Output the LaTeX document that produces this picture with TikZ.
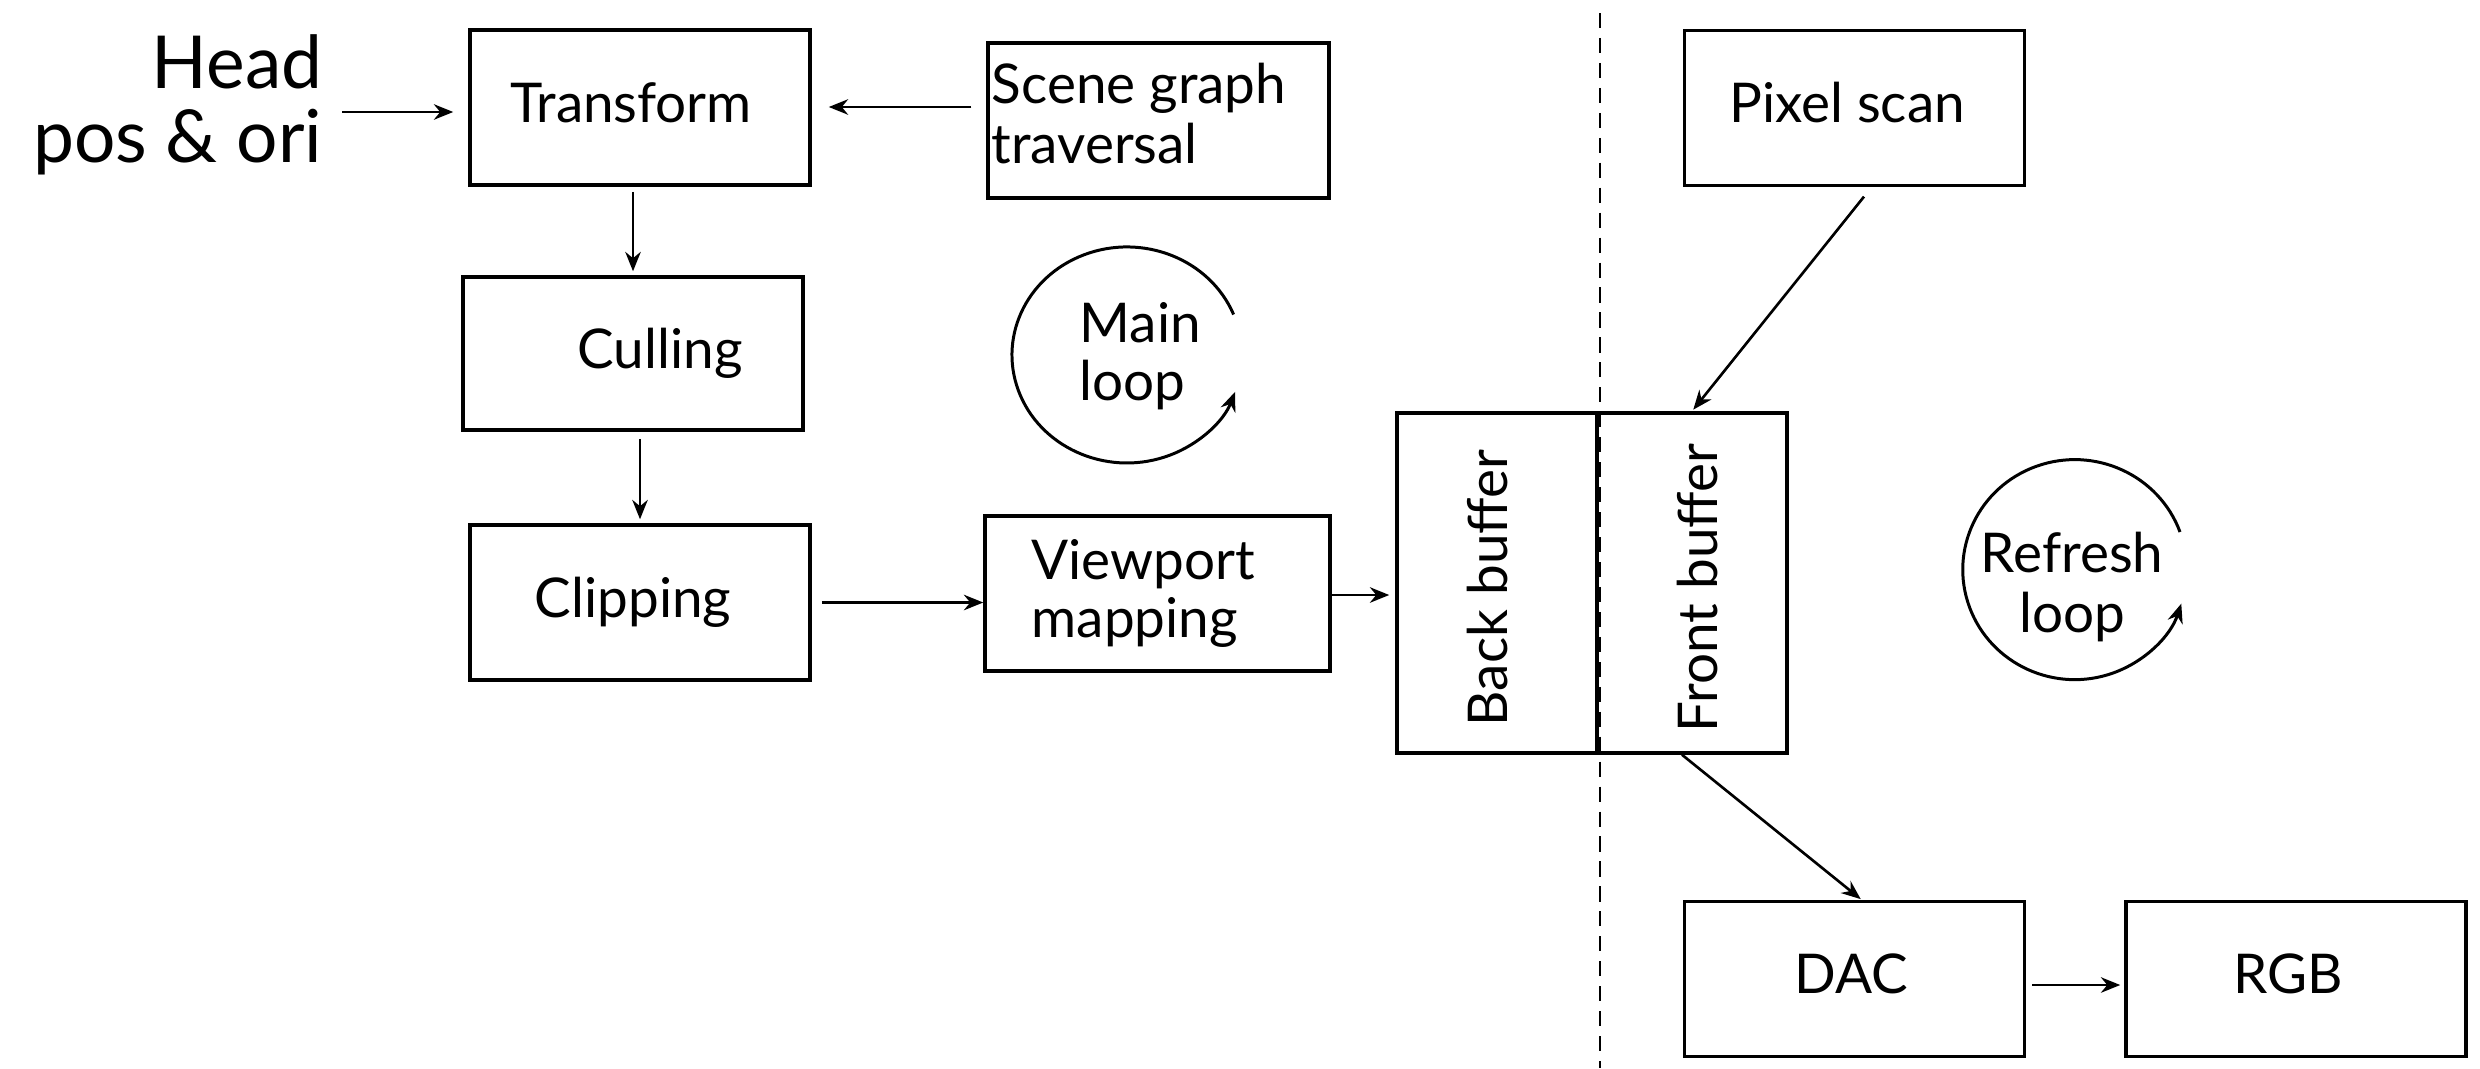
\documentclass[tikz,border=0pt]{standalone}
\usepackage{fontspec}
\setmainfont{Lato}
\usetikzlibrary{arrows.meta,calc}
\begin{document}
\begin{tikzpicture}[x=1cm, y=-1cm,
  box/.style={draw, line width=1pt, inner sep=0pt, minimum width=3.40cm, minimum height=1.55cm},
  txt/.style={inner sep=0pt, anchor=base, font=\fontsize{15.6}{18}\selectfont},
  bigtxt/.style={inner sep=0pt, anchor=base east, font=\fontsize{20.8}{24}\selectfont},
  arr/.style={-{Stealth[length=5.5pt, width=4.4pt]}, line width=0.75pt},
  loopline/.style={-{Stealth[length=5.5pt, width=4.4pt]}, line width=0.85pt},
  divider/.style={line width=0.7pt, dash pattern=on 4.3pt off 2.8pt}
]
\useasboundingbox (0,0) rectangle (24.80,10.68);

% pipeline boxes
\node[box] (tr)  at (6.40, 1.075) {};
\node[box, minimum width=3.41cm] (sg)  at (11.585, 1.205) {};
\node[box, minimum height=1.53cm] (cul) at (6.33, 3.535) {};
\node[box] (cl)  at (6.40, 6.025) {};
\node[box, minimum width=3.45cm] (vp)  at (11.575, 5.935) {};
\node[box, minimum width=2.00cm, minimum height=3.40cm] (bb) at (14.97, 5.83) {};
\node[box, minimum width=1.90cm, minimum height=3.40cm] (fb) at (16.92, 5.83) {};
\node[box] (px)  at (18.545, 1.08) {};
\node[box, minimum height=1.55cm] (dac) at (18.545, 9.79) {};
\node[box, minimum height=1.55cm] (rgb) at (22.96, 9.79) {};

% box labels
\node[txt] (trt)  at (6.31, 1.23) {Transform};
\node[txt, anchor=base west] (sgt1) at (9.91, 1.04) {Scene graph};
\node[txt, anchor=base west] (sgt2) at (9.91, 1.63) {traversal};
\node[txt] (cult) at (6.60, 3.68) {Culling};
\node[txt] (clt)  at (6.33, 6.17) {Clipping};
\node[txt, anchor=base west] (vpt1) at (10.31, 5.79) {Viewport};
\node[txt, anchor=base west] (vpt2) at (10.31, 6.37) {mapping};
\node[txt, rotate=90] (bbt) at (15.07, 5.88) {Back buffer};
\node[txt, rotate=90] (fbt) at (17.17, 5.88) {Front buffer};
\node[txt] (pxt)  at (18.47, 1.23) {Pixel scan};
\node[txt] (dact) at (18.51, 9.93) {DAC};
\node[txt] (rgbt) at (22.88, 9.93) {RGB};

% input label
\node[bigtxt] (head1) at (3.23, 0.88) {Head};
\node[bigtxt] (head2) at (3.23, 1.62) {pos \& ori};
\coordinate (headout) at (3.42, 1.12);

% loop labels
\node[txt, anchor=base west] (ml1) at (10.79, 3.42) {Main};
\node[txt, anchor=base west] (ml2) at (10.79, 4.00) {loop};
\node[txt] (rl1) at (20.72, 5.72) {Refresh};
\node[txt] (rl2) at (20.72, 6.32) {loop};

% connectors
\draw[arr, shorten >=0.15cm] (headout) -- (headout -| tr.west);
\draw[arr, shorten <=0.15cm, shorten >=0.17cm] ([yshift=0.005cm]tr.east -| sg.west) -- ([yshift=0.005cm]tr.east);
\draw[arr, shorten <=0.05cm, shorten >=0.04cm] (tr.south -| cul.north) -- (cul.north);
\draw[arr, shorten <=0.07cm, shorten >=0.04cm] (cl.north |- cul.south) -- (cl.north);
\draw[arr, shorten <=0.10cm] (cl.east) -- (cl.east -| vp.west);
\draw[arr, shorten >=0.06cm] ([yshift=-0.015cm]vp.east) -- ([yshift=-0.015cm]vp.east -| bb.west);
\draw[arr, shorten <=0.12cm, shorten >=0.02cm] ([xshift=0.17cm]px.south) -- (fb.north);
\draw[arr, shorten >=0.01cm] ([xshift=-0.10cm]fb.south) -- ([xshift=0.07cm]dac.north);
\draw[arr, shorten <=0.06cm, shorten >=0.04cm] ([yshift=-0.06cm]dac.east) -- ([yshift=-0.06cm]rgb.west);

% loops
\coordinate (mc) at (11.27, 3.55);
\draw[loopline] ($(mc)+(1.066,-0.405)$) arc[start angle=-22, end angle=-340, x radius=1.15, y radius=1.08];
\coordinate (rc) at (20.75, 5.70);
\draw[loopline] ($(rc)+(1.05,-0.38)$) arc[start angle=-20, end angle=-342, x radius=1.12, y radius=1.10];

% display divider
\draw[divider] (16.00, 0.13) -- (16.00, 10.68);
\end{tikzpicture}
\end{document}
